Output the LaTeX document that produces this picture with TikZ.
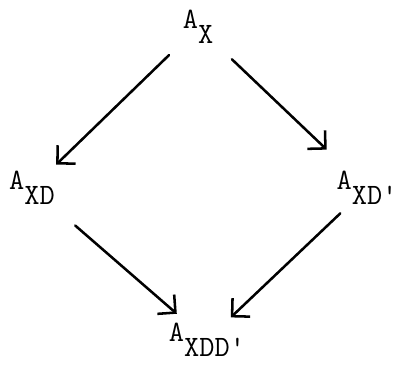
\documentclass[tikz,border=0pt]{standalone}
\usepackage{tikz}
\usetikzlibrary{arrows.meta}
\newcommand{\lowr}[1]{\raisebox{-10.5pt}{#1}}

\begin{document}
\begin{tikzpicture}[
  x=0.025cm, y=-0.025cm,
  every node/.style={font=\ttfamily\fontsize{21}{25}\selectfont, inner sep=0pt},
  arr/.style={-{Straight Barb[length=3.2mm, width=6.4mm]}, line width=1.8pt, line cap=round}
]
  \useasboundingbox (0,0) rectangle (400,365);
  \node (ax) at (198,27) {A\lowr{X}};
  \node (axd) at (32,188) {A\lowr{XD}};
  \node (axdp) at (367,188) {A\lowr{XD\textquotesingle}};
  \node (axddp) at (207,340) {A\lowr{XDD\textquotesingle}};

  \draw[arr, shorten <=1.01cm, shorten >=0.84cm] (ax.center) -- (axd.center);
  \draw[arr, shorten <=1.17cm, shorten >=1.39cm] (ax.center) -- (axdp.center);
  \draw[arr, shorten <=1.43cm, shorten >=1.0cm] (axd.center) -- (axddp.center);
  \draw[arr, shorten <=0.92cm, shorten >=0.82cm] (axdp.center) -- (axddp.center);
\end{tikzpicture}
\end{document}
